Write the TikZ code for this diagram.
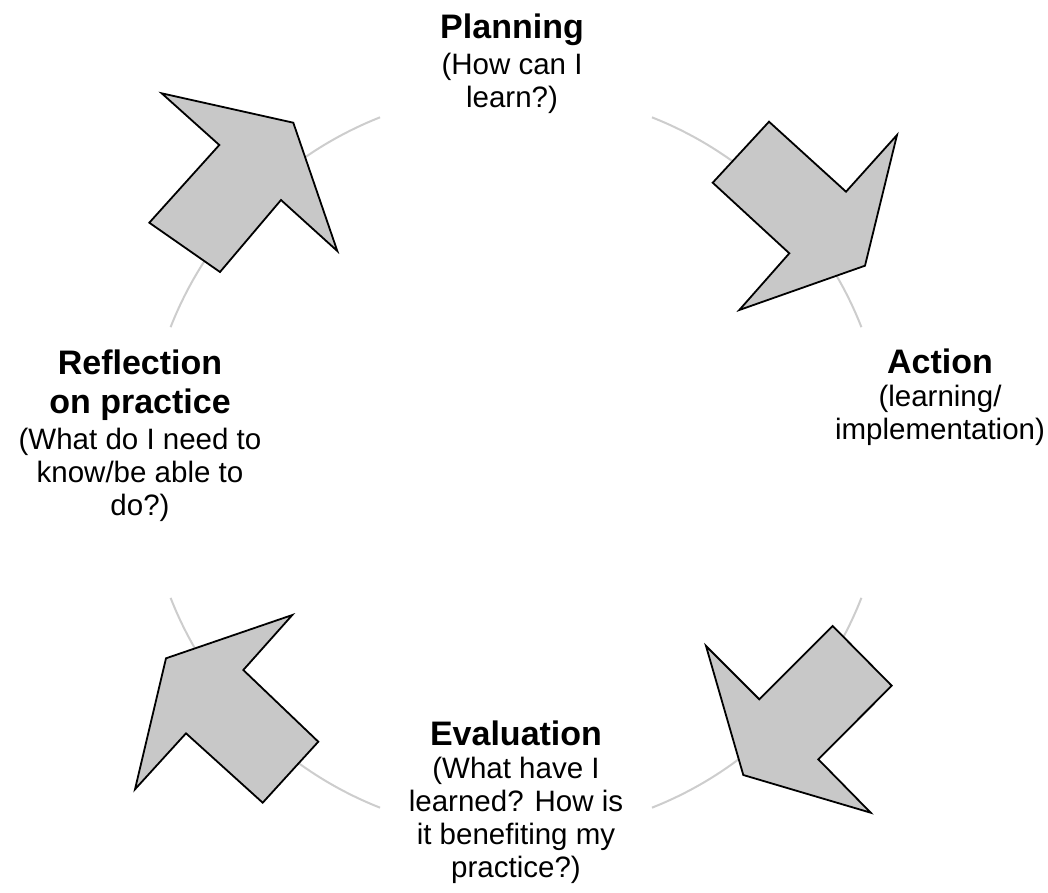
\documentclass[tikz,border=0pt]{standalone}
\usepackage{fontspec}
\setmainfont{Liberation Sans}
\definecolor{arrowfill}{RGB}{200,200,200}
\definecolor{ringgray}{RGB}{205,205,205}
\begin{document}
\begin{tikzpicture}[x=1pt,y=-1pt,
  ring/.style={draw=ringgray,line width=2pt},
  bigarrow/.style={draw=black,fill=arrowfill,line width=1.8pt,line join=miter},
  label/.style={align=center,inner sep=0pt,anchor=north,
    font=\fontsize{29.5}{33}\selectfont}]
\useasboundingbox (0,0) rectangle (1048,892);
\coordinate (c) at (516,462.5);
% ring segments
\draw[ring] (c) ++(-111.5:371) arc[start angle=-111.5,end angle=-158.6,radius=371];
\draw[ring] (c) ++(-68.5:371) arc[start angle=-68.5,end angle=-21.4,radius=371];
\draw[ring] (c) ++(21.4:371) arc[start angle=21.4,end angle=68.5,radius=371];
\draw[ring] (c) ++(111.5:371) arc[start angle=111.5,end angle=158.6,radius=371];
% arrows
\draw[bigarrow] (161.7,93.3) -- (293.3,122.7) -- (337.3,251) -- (281,200)
  -- (220,272) -- (149.3,222.7) -- (219.3,145) -- cycle;
\draw[bigarrow] (769,121.7) -- (846,191.7) -- (897,135) -- (865,265.7)
  -- (739.3,310) -- (789.3,253.3) -- (712.7,182.7) -- cycle;
\draw[bigarrow] (832.7,626) -- (891.7,685.7) -- (818.3,759.3) -- (870.7,812.7)
  -- (743.3,775) -- (706,646) -- (759.3,699.3) -- cycle;
\draw[bigarrow] (292.3,615) -- (243.3,670) -- (318.3,741.7) -- (262.7,802.7)
  -- (186,733.3) -- (135,789.3) -- (166,658.3) -- cycle;
% labels
\node[label] (plan) at (512,14) {{\fontsize{34}{38}\bfseries Planning}\\[3pt](How can I\\learn?)};
\node[label] (act) at (940,349) {{\fontsize{34}{38}\bfseries Action}\\(learning/\\implementation)};
\node[label] (refl) at (140,350) {{\fontsize{34}{38}\bfseries Reflection}\\[6pt]{\fontsize{34}{38}\bfseries on practice}\\[3pt](What do I need to\\know/be able to\\do?)};
\node[label] (eval) at (516,721) {{\fontsize{34}{38}\bfseries Evaluation}\\(What have I\\learned? How is\\it benefiting my\\practice?)};
\end{tikzpicture}
\end{document}
